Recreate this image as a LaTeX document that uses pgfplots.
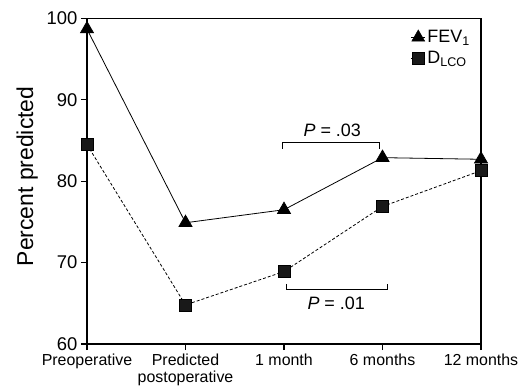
\documentclass[border=0pt]{standalone}
\usepackage{pgfplots}
\pgfplotsset{compat=1.18}
\usepackage{fontspec}
\setmainfont{Liberation Sans}
\begin{document}
\begin{tikzpicture}
\useasboundingbox (-87bp,-47bp) rectangle (441bp,344bp);
\begin{axis}[
 scale only axis, width=394bp, height=325.5bp,
 at={(0,0)}, anchor=south west,
 xmin=0, xmax=4, ymin=60, ymax=100,
 clip=false,
 xtick={0,1,2,3,4},
 xticklabels={Preoperative,{Predicted\\postoperative},1 month,6 months,12 months},
 xticklabel style={font=\fontsize{16}{17}\selectfont, align=center, anchor=north},
 ytick={60,70,80,90,100},
 yticklabel style={font=\fontsize{18.5}{19}\selectfont, anchor=east},
 tick align=outside, xtick pos=lower, ytick pos=left,
 major tick length=6bp,
 axis line style={line width=1.5bp},
 every tick/.style={line width=1.2bp, black},
 ylabel={Percent predicted},
 ylabel style={font=\fontsize{23}{23}\selectfont, at={(axis description cs:-0.152,0.515)}, anchor=center},
 /pgf/number format/assume math mode=true,
 legend style={draw=none, fill=none, inner sep=0pt, at={(axis description cs:0.822,0.97)}, anchor=north west, font=\fontsize{18}{18}\selectfont, row sep=3bp},
 legend cell align=left,
 legend image code/.code={\path (0bp,0bp) -- (14bp,0bp); \draw[#1] plot coordinates {(7bp,0bp)};},
]
\addlegendimage{only marks, mark=triangle*, mark size=7.5bp, black}
\addlegendentry{FEV\textsubscript{1}}
\addlegendimage{only marks, mark=square*, mark size=6bp, black, fill=black!90}
\addlegendentry{D\textsubscript{LCO}}
\addplot[forget plot, black, line width=0.8bp, mark=triangle*, mark size=7.5bp, mark options={solid, fill=black}]
 coordinates {(0,98.7) (1,74.9) (2,76.5) (3,82.9) (4,82.7)};
\addplot[forget plot, black, line width=0.8bp, dash pattern=on 3bp off 2bp, mark=square*, mark size=6bp, mark options={solid, fill=black!90}]
 coordinates {(0,84.5) (1,64.8) (2,68.9) (3,76.9) (4,81.3)};
\draw[line width=0.8bp] (axis cs:1.98,84.0) -- (axis cs:1.98,84.75) -- (axis cs:2.97,84.75) -- (axis cs:2.97,84.0);
\node[font=\fontsize{18}{18}\selectfont] at (axis cs:2.49,86.3) {\textit{P} = .03};
\draw[line width=0.8bp] (axis cs:2.02,67.4) -- (axis cs:2.02,66.65) -- (axis cs:3.05,66.65) -- (axis cs:3.05,67.4);
\node[font=\fontsize{18}{18}\selectfont] at (axis cs:2.53,65.05) {\textit{P} = .01};
\end{axis}
\end{tikzpicture}
\end{document}
